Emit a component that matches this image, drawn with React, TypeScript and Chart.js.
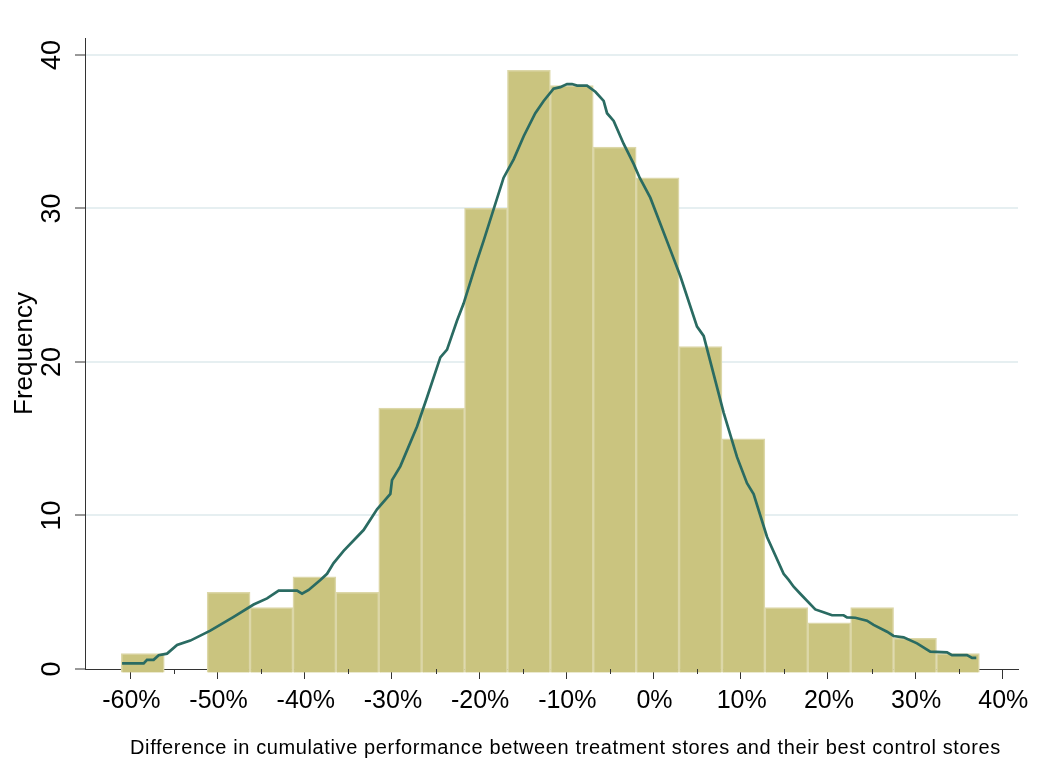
import React, { useEffect, useRef } from 'react';
import { Chart, registerables } from 'chart.js';

Chart.register(...registerables);

// Histogram bins (bin centers in %, counts)
const binCenters = [-58.57, -53.65, -48.73, -43.81, -38.89, -33.97, -29.05, -24.13, -19.21, -14.29, -9.37, -4.45, 0.47, 5.39, 10.31, 15.23, 20.15, 25.07, 29.99, 34.91];
const binCounts = [1, 0, 5, 4, 6, 5, 17, 17, 30, 39, 38, 34, 32, 21, 15, 4, 3, 4, 2, 1];

// Kernel density curve (scaled to frequency)
const densityX = [-60.95, -58.47, -58.09, -57.33, -56.75, -55.79, -54.64, -53.12, -50.83, -48.15, -45.86, -44.32, -42.99, -40.88, -40.31, -39.55, -38.21, -37.44, -36.69, -35.54, -33.25, -31.71, -30.18, -29.99, -29.04, -27.12, -25.97, -24.45, -23.68, -22.53, -21.78, -20.24, -19.48, -17.19, -16.04, -14.89, -13.56, -12.6, -11.46, -10.69, -9.92, -9.35, -8.77, -7.63, -6.67, -5.72, -5.33, -4.57, -3.42, -2.28, -1.59, -0.37, 1.93, 3.07, 4.99, 5.75, 8.04, 9.58, 10.72, 11.48, 13.02, 14.92, 15.5, 16.07, 16.83, 18.55, 19.5, 20.47, 21.8, 22.19, 23.14, 24.48, 25.24, 26.78, 27.53, 28.68, 30.22, 31.74, 33.66, 34.23, 35.95, 36.53, 37.02];
const densityY = [0.37, 0.37, 0.6, 0.6, 0.9, 1.0, 1.56, 1.85, 2.5, 3.4, 4.2, 4.6, 5.1, 5.1, 4.9, 5.15, 5.8, 6.2, 6.9, 7.7, 9.05, 10.4, 11.4, 12.3, 13.2, 15.8, 17.7, 20.3, 20.8, 22.7, 23.8, 26.6, 27.9, 32.0, 33.2, 34.7, 36.2, 37.0, 37.8, 37.9, 38.1, 38.1, 38.0, 38.0, 37.6, 37.0, 36.2, 35.7, 34.2, 32.9, 32.0, 30.7, 27.3, 25.6, 22.3, 21.7, 16.7, 13.8, 12.1, 11.4, 8.6, 6.2, 5.8, 5.36, 4.9, 3.88, 3.7, 3.5, 3.5, 3.36, 3.34, 3.15, 2.87, 2.43, 2.15, 2.06, 1.67, 1.13, 1.08, 0.9, 0.9, 0.72, 0.72];

const xTickValues = [-60, -50, -40, -30, -20, -10, 0, 10, 20, 30, 40];
const xMinorTicks = [-55, -45, -35, -25, -15, -5, 5, 15, 25, 35];
const yTickValues = [0, 10, 20, 30, 40];
const xTitle = 'Difference in cumulative performance between treatment stores and their best control stores';
const yTitle = 'Frequency';

const FONT = '"Liberation Sans", Arial, sans-serif';
const BAR_FILL = '#cac47f';
const BAR_EDGE = '#dcd7a8';
const NONE = 'rgba(0,0,0,0)';

const textPlugin = {
  id: 'customText',
  afterDraw(chart: any) {
    const ctx = chart.ctx as CanvasRenderingContext2D;
    const xs = chart.scales.x;
    const ys = chart.scales.y;
    const area = chart.chartArea;
    ctx.save();
    ctx.strokeStyle = '#333';
    ctx.lineWidth = 1;
    xMinorTicks.forEach((v) => {
      const px = Math.round(xs.getPixelForValue(v)) + 0.5;
      ctx.beginPath();
      ctx.moveTo(px, area.bottom);
      ctx.lineTo(px, area.bottom + 5);
      ctx.stroke();
    });
    ctx.fillStyle = '#000';
    ctx.font = `25px ${FONT}`;
    ctx.textAlign = 'center';
    ctx.textBaseline = 'middle';
    xTickValues.forEach((v) => {
      ctx.fillText(`${v}%`, xs.getPixelForValue(v) + 1, 701);
    });
    ctx.font = `27px ${FONT}`;
    yTickValues.forEach((v) => {
      ctx.save();
      ctx.translate(53, ys.getPixelForValue(v));
      ctx.rotate(-Math.PI / 2);
      ctx.fillText(String(v), 0, 0);
      ctx.restore();
    });
    ctx.font = `26px ${FONT}`;
    ctx.save();
    ctx.translate(25, (area.top + area.bottom) / 2);
    ctx.rotate(-Math.PI / 2);
    ctx.fillText(yTitle, 0, 0);
    ctx.restore();
    ctx.font = `20px ${FONT}`;
    const w0 = ctx.measureText(xTitle).width;
    const target = 870;
    const sp = (target - w0) / (xTitle.length - 1);
    (ctx as any).letterSpacing = `${sp.toFixed(2)}px`;
    ctx.textAlign = 'left';
    ctx.fillText(xTitle, 565 - target / 2, 748);
    ctx.restore();
  },
};

export default function App() {
  const ref = useRef<HTMLCanvasElement | null>(null);
  useEffect(() => {
    if (!ref.current) return;
    const chart = new Chart(ref.current, {
      type: 'bar',
      data: {
        datasets: [
          {
            type: 'line',
            data: densityX.map((x, i) => ({ x, y: densityY[i] })),
            borderColor: '#2a6b62',
            borderWidth: 2.7,
            pointRadius: 0,
            tension: 0,
            fill: false,
            order: 0,
          } as any,
          {
            type: 'bar',
            data: binCenters.map((x, i) => ({ x, y: binCounts[i] })),
            backgroundColor: (c: any) => (binCounts[c.dataIndex] === 0 ? NONE : BAR_FILL),
            borderColor: (c: any) => (binCounts[c.dataIndex] === 0 ? NONE : BAR_EDGE),
            borderWidth: 1.5,
            barPercentage: 1,
            categoryPercentage: 1,
            base: -0.22,
            clip: false,
            order: 1,
          } as any,
        ],
      },
      options: {
        responsive: false,
        animation: false,
        layout: { padding: { top: 38, right: 30, left: 0, bottom: 0 } },
        plugins: { legend: { display: false }, tooltip: { enabled: false } },
        scales: {
          x: {
            type: 'linear',
            min: -65.2,
            max: 41.8,
            offset: false,
            z: 1,
            afterBuildTicks: (s: any) => {
              s.ticks = xTickValues.map((v) => ({ value: v }));
            },
            afterFit: (s: any) => {
              s.height = 95;
            },
            ticks: { display: false },
            grid: {
              display: true,
              drawOnChartArea: false,
              drawTicks: true,
              tickLength: 10,
              tickColor: '#333',
              tickWidth: 1,
              offset: false,
            },
            border: { display: true, color: '#333', width: 1 },
          },
          y: {
            type: 'linear',
            min: 0,
            max: 41.1,
            afterBuildTicks: (s: any) => {
              s.ticks = yTickValues.map((v) => ({ value: v }));
            },
            afterFit: (s: any) => {
              s.width = 85;
            },
            ticks: { display: false },
            grid: {
              color: (c: any) => (c.tick && c.tick.value === 0 ? NONE : '#e6eff1'),
              lineWidth: 2,
              drawTicks: true,
              tickLength: 10,
              tickColor: '#333',
              tickWidth: 1,
            },
            border: { display: true, color: '#333', width: 1 },
          },
        },
      } as any,
      plugins: [textPlugin],
    });
    return () => chart.destroy();
  }, []);
  return (
    <div style={{ position: 'absolute', left: 0, top: 0, width: 1048, height: 764, background: '#fff' }}>
      <canvas ref={ref} width={1048} height={764} style={{ display: 'block' }} />
    </div>
  );
}
